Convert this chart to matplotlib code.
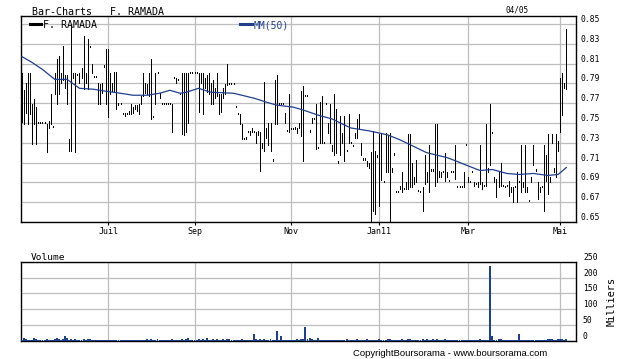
import numpy as np
import matplotlib.pyplot as plt
from matplotlib.lines import Line2D

# daily bars (low / high), one per trading day
lows = [
    0.751, 0.749, 0.760, 0.749, 0.759, 0.729, 0.749, 0.729, 0.750, 0.750,
    0.750, 0.750, 0.721, 0.745, 0.749, 0.746, 0.779, 0.769, 0.779, 0.790,
    0.793, 0.785, 0.769, 0.722, 0.722, 0.795, 0.721, 0.798, 0.790, 0.795,
    0.784, 0.790, 0.784, 0.827, 0.800, 0.796, 0.796, 0.769, 0.769, 0.780,
    0.807, 0.769, 0.756, 0.779, 0.782, 0.782, 0.764, 0.768, 0.769, 0.759,
    0.757, 0.759, 0.759, 0.759, 0.760, 0.764, 0.762, 0.759, 0.769, 0.777,
    0.780, 0.779, 0.777, 0.754, 0.756, 0.769, 0.800, 0.775, 0.769, 0.769,
    0.769, 0.769, 0.769, 0.741, 0.795, 0.790, 0.793, 0.779, 0.739, 0.738,
    0.741, 0.750, 0.800, 0.800, 0.800, 0.800, 0.761, 0.790, 0.759, 0.785,
    0.781, 0.779, 0.769, 0.769, 0.775, 0.777, 0.759, 0.761, 0.775, 0.779,
    0.788, 0.789, 0.789, 0.789, 0.766, 0.759, 0.749, 0.734, 0.734, 0.734,
    0.741, 0.738, 0.741, 0.741, 0.730, 0.738, 0.702, 0.725, 0.722, 0.735,
    0.728, 0.722, 0.712, 0.749, 0.749, 0.769, 0.769, 0.769, 0.750, 0.742,
    0.741, 0.744, 0.744, 0.744, 0.740, 0.745, 0.737, 0.712, 0.777, 0.777,
    0.741, 0.750, 0.754, 0.724, 0.725, 0.730, 0.730, 0.730, 0.769, 0.740,
    0.730, 0.722, 0.718, 0.720, 0.710, 0.718, 0.730, 0.712, 0.722, 0.730,
    0.730, 0.727, 0.735, 0.735, 0.744, 0.718, 0.713, 0.713, 0.707, 0.705,
    0.650, 0.661, 0.658, 0.716, 0.666, 0.692, 0.690, 0.700, 0.700, 0.650,
    0.700, 0.718, 0.680, 0.680, 0.683, 0.680, 0.683, 0.683, 0.683, 0.685,
    0.685, 0.688, 0.690, 0.681, 0.680, 0.661, 0.688, 0.690, 0.680, 0.702,
    0.702, 0.686, 0.690, 0.695, 0.695, 0.700, 0.691, 0.695, 0.691, 0.700,
    0.700, 0.693, 0.685, 0.685, 0.685, 0.685, 0.728, 0.690, 0.690, 0.700,
    0.686, 0.688, 0.685, 0.688, 0.683, 0.686, 0.686, 0.700, 0.708, 0.740,
    0.690, 0.675, 0.685, 0.686, 0.686, 0.685, 0.686, 0.676, 0.680, 0.670,
    0.685, 0.670, 0.690, 0.680, 0.685, 0.680, 0.680, 0.671, 0.690, 0.708,
    0.702, 0.673, 0.680, 0.685, 0.661, 0.691, 0.678, 0.690, 0.730, 0.700,
    0.695, 0.722, 0.741, 0.758, 0.785, 0.784,
]
highs = [
    0.800, 0.783, 0.790, 0.800, 0.800, 0.769, 0.774, 0.766, 0.750, 0.750,
    0.750, 0.750, 0.749, 0.752, 0.779, 0.746, 0.800, 0.815, 0.818, 0.800,
    0.828, 0.798, 0.798, 0.734, 0.848, 0.800, 0.800, 0.798, 0.800, 0.805,
    0.838, 0.800, 0.835, 0.827, 0.810, 0.796, 0.796, 0.790, 0.789, 0.790,
    0.807, 0.825, 0.825, 0.800, 0.790, 0.801, 0.801, 0.770, 0.769, 0.759,
    0.760, 0.759, 0.762, 0.769, 0.766, 0.768, 0.768, 0.769, 0.777, 0.800,
    0.790, 0.789, 0.800, 0.815, 0.756, 0.800, 0.800, 0.780, 0.769, 0.769,
    0.769, 0.769, 0.770, 0.769, 0.795, 0.795, 0.793, 0.779, 0.800, 0.800,
    0.800, 0.800, 0.800, 0.800, 0.800, 0.800, 0.800, 0.800, 0.800, 0.795,
    0.798, 0.800, 0.790, 0.793, 0.785, 0.800, 0.779, 0.779, 0.785, 0.789,
    0.810, 0.789, 0.789, 0.789, 0.766, 0.759, 0.759, 0.749, 0.734, 0.736,
    0.741, 0.742, 0.745, 0.741, 0.741, 0.742, 0.741, 0.730, 0.791, 0.745,
    0.750, 0.750, 0.712, 0.793, 0.798, 0.769, 0.769, 0.769, 0.760, 0.742,
    0.779, 0.744, 0.744, 0.746, 0.745, 0.750, 0.782, 0.787, 0.777, 0.777,
    0.743, 0.755, 0.754, 0.769, 0.725, 0.771, 0.777, 0.730, 0.769, 0.750,
    0.769, 0.728, 0.779, 0.764, 0.710, 0.757, 0.740, 0.757, 0.722, 0.759,
    0.730, 0.727, 0.740, 0.754, 0.759, 0.730, 0.713, 0.713, 0.712, 0.710,
    0.721, 0.742, 0.722, 0.716, 0.739, 0.739, 0.690, 0.740, 0.738, 0.740,
    0.705, 0.718, 0.680, 0.680, 0.686, 0.700, 0.683, 0.690, 0.739, 0.739,
    0.710, 0.695, 0.713, 0.681, 0.680, 0.685, 0.718, 0.700, 0.728, 0.702,
    0.702, 0.749, 0.749, 0.702, 0.700, 0.700, 0.720, 0.700, 0.691, 0.700,
    0.700, 0.728, 0.685, 0.685, 0.685, 0.700, 0.728, 0.695, 0.690, 0.700,
    0.690, 0.688, 0.690, 0.728, 0.690, 0.686, 0.749, 0.705, 0.769, 0.740,
    0.695, 0.693, 0.700, 0.710, 0.686, 0.685, 0.686, 0.691, 0.685, 0.685,
    0.685, 0.700, 0.690, 0.728, 0.690, 0.728, 0.685, 0.671, 0.695, 0.728,
    0.702, 0.690, 0.685, 0.685, 0.728, 0.718, 0.739, 0.695, 0.739, 0.705,
    0.739, 0.732, 0.795, 0.800, 0.790, 0.845,
]
# volume in thousands
volumes = [
    3, 10, 4, 3, 2, 3, 7, 5, 2, 2, 2, 3, 4, 2, 3, 2, 4, 9, 5, 3,
    4, 14, 10, 3, 6, 3, 4, 2, 3, 3, 4, 3, 6, 4, 2, 2, 2, 3, 3, 2,
    2, 3, 3, 2, 2, 3, 2, 2, 2, 2, 2, 2, 3, 2, 2, 3, 2, 2, 3, 2,
    3, 4, 3, 5, 2, 3, 6, 3, 2, 2, 2, 2, 2, 4, 2, 2, 2, 2, 4, 3,
    5, 8, 3, 2, 2, 2, 4, 3, 5, 3, 7, 3, 2, 4, 3, 5, 3, 3, 4, 3,
    6, 4, 2, 2, 3, 2, 2, 4, 2, 3, 2, 2, 3, 21, 4, 3, 5, 2, 4, 3,
    3, 5, 2, 3, 30, 3, 14, 2, 2, 2, 3, 2, 2, 3, 4, 3, 6, 5, 44, 6,
    8, 5, 3, 2, 10, 3, 2, 2, 3, 2, 2, 2, 2, 3, 2, 2, 2, 3, 4, 2,
    2, 2, 3, 4, 3, 2, 3, 2, 4, 2, 3, 3, 2, 3, 5, 3, 2, 3, 4, 6,
    3, 3, 2, 2, 3, 4, 2, 3, 6, 4, 3, 2, 3, 2, 2, 5, 3, 4, 2, 3,
    4, 3, 5, 3, 2, 3, 5, 2, 2, 2, 2, 3, 2, 2, 2, 2, 2, 2, 2, 2,
    2, 2, 3, 4, 2, 2, 3, 3, 235, 15, 3, 2, 4, 5, 2, 2, 3, 2, 3, 3,
    2, 3, 20, 3, 2, 3, 2, 2, 2, 2, 2, 2, 2, 2, 3, 2, 4, 4, 5, 3,
    3, 5, 4, 5, 3, 6,
]
# MM(50) line, read at a few points
ma_idx = [0, 5, 10, 16, 22, 28, 35, 41, 48, 54, 61, 67, 72, 77, 80, 86, 92,
          103, 113, 119, 124, 132, 137, 144, 151, 160, 169, 178, 184, 190,
          197, 207, 212, 218, 223, 229, 236, 242, 249, 256, 261, 265]
ma_val = [0.817, 0.811, 0.804, 0.794, 0.794, 0.785, 0.784, 0.782, 0.780,
          0.778, 0.778, 0.780, 0.783, 0.780, 0.781, 0.785, 0.781, 0.780,
          0.775, 0.771, 0.768, 0.766, 0.763, 0.758, 0.754, 0.745, 0.742,
          0.738, 0.733, 0.727, 0.720, 0.715, 0.711, 0.706, 0.702, 0.703,
          0.699, 0.698, 0.699, 0.697, 0.698, 0.705]

month_labels = ['Juil', 'Sep', 'Nov', 'Jan11', 'Mar', 'Mai']
month_idx = [42, 84, 131, 174, 217, 262]
price_ticks = [0.65, 0.67, 0.69, 0.71, 0.73, 0.75, 0.77, 0.79, 0.81, 0.83, 0.85]
vol_ticks = [0, 50, 100, 150, 200, 250]

MONO = 'DejaVu Sans Mono'
BLUE = '#1f3f8f'
GRID = '#bdbdbd'
W, H = 620, 359


def px(x, y):
    return x / W, 1 - y / H


fig = plt.figure(figsize=(6.2, 3.59), dpi=100)
ax = fig.add_axes([20.7 / W, 1 - 222 / H, 555.3 / W, 206 / H])
axv = fig.add_axes([20.7 / W, 1 - 340.7 / H, 555.3 / W, 79 / H])

x = np.arange(len(lows))
lo = np.array(lows)
hi = np.maximum(np.array(highs), lo + 0.0012)

# price panel
ax.vlines(x, lo, hi, color='black', lw=0.6, antialiased=False, zorder=3)
ax.plot(ma_idx, ma_val, color=BLUE, lw=0.9, zorder=4)
ax.set_xlim(-0.6, 269.7)
ax.set_ylim(0.65, 0.858)
ax.set_yticks(price_ticks)
ax.set_xticks(month_idx)
ax.set_xticklabels(month_labels, family=MONO, fontsize=6)
ax.yaxis.tick_right()
ax.set_yticklabels([f'{t:.2f}' for t in price_ticks], family=MONO, fontsize=5.8, va='bottom')
ax.tick_params(axis='y', length=0, pad=3)
ax.tick_params(axis='x', length=2, pad=1.5)
ax.grid(color=GRID, lw=0.9)
ax.set_axisbelow(True)

# volume panel
axv.bar(x, volumes, width=0.95, color=BLUE, zorder=3)
axv.set_xlim(-0.6, 269.7)
axv.set_ylim(0, 250)
axv.set_yticks(vol_ticks)
axv.set_xticks(month_idx)
axv.set_xticklabels([])
axv.yaxis.tick_right()
axv.set_yticklabels([str(v) for v in vol_ticks], family=MONO, fontsize=5.8, va='bottom')
axv.tick_params(axis='y', length=0, pad=5)
axv.tick_params(axis='x', length=0)
axv.grid(color=GRID, lw=0.9)
axv.set_axisbelow(True)

for a in (ax, axv):
    for s in a.spines.values():
        s.set_color('black')
        s.set_linewidth(1.0)

# texts
fig.text(*px(32, 12), 'Bar-Charts   F. RAMADA', family=MONO, fontsize=7.2, va='center')
fig.text(*px(506, 10), '04/05', family=MONO, fontsize=5.6, va='center')
fig.add_artist(Line2D([30 / W, 41 / W], [1 - 24 / H] * 2, color='black', lw=2.2))
fig.text(*px(43, 25), 'F. RAMADA', family=MONO, fontsize=7.2, va='center')
fig.add_artist(Line2D([240 / W, 252 / W], [1 - 24 / H] * 2, color=BLUE, lw=2.2))
fig.text(*px(254, 25), 'MM(50)', family=MONO, fontsize=7, va='center', color=BLUE)
fig.text(*px(31, 257), 'Volume', family=MONO, fontsize=6.8, va='center')
fig.text(*px(612, 301), 'Milliers', family=MONO, fontsize=7.4, va='center', ha='center', rotation=90)
fig.text(*px(353, 353), 'CopyrightBoursorama - www.boursorama.com', family='Liberation Sans',
         fontsize=6.8, va='center')

fig.savefig('out.png', dpi=100)
